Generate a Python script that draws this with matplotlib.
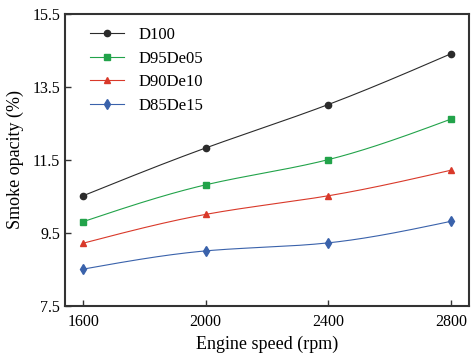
import numpy as np
import matplotlib
matplotlib.use('Agg')
import matplotlib.pyplot as plt

plt.rcParams['font.family'] = ['Liberation Serif', 'DejaVu Serif']
plt.rcParams['mathtext.fontset'] = 'stix'

speed = [1600, 2000, 2400, 2800]
d100 = [10.52, 11.83, 13.02, 14.41]
d95de05 = [9.81, 10.82, 11.51, 12.62]
d90de10 = [9.22, 10.01, 10.52, 11.22]
d85de15 = [8.51, 9.01, 9.23, 9.82]

names = ['D100', 'D95De05', 'D90De10', 'D85De15']
colors = ['#2b2b2b', '#22a34a', '#d9392a', '#3a62ab']
markers = ['o', 's', '^', 'd']


# natural cubic spline, only used to draw the smooth connecting line
def spline(x, y, n=200):
    x = np.asarray(x, float)
    y = np.asarray(y, float)
    k = len(x)
    h = np.diff(x)
    A = np.zeros((k, k))
    b = np.zeros(k)
    A[0, 0] = 1
    A[-1, -1] = 1
    for i in range(1, k - 1):
        A[i, i - 1] = h[i - 1]
        A[i, i] = 2 * (h[i - 1] + h[i])
        A[i, i + 1] = h[i]
        b[i] = 6 * ((y[i + 1] - y[i]) / h[i] - (y[i] - y[i - 1]) / h[i - 1])
    m = np.linalg.solve(A, b)
    xs = np.linspace(x[0], x[-1], n)
    ys = np.empty_like(xs)
    for j, xv in enumerate(xs):
        i = min(np.searchsorted(x, xv) - 1, k - 2)
        i = max(i, 0)
        t1 = x[i + 1] - xv
        t0 = xv - x[i]
        ys[j] = (m[i] * t1 ** 3 + m[i + 1] * t0 ** 3) / (6 * h[i]) \
            + (y[i] / h[i] - m[i] * h[i] / 6) * t1 \
            + (y[i + 1] / h[i] - m[i + 1] * h[i] / 6) * t0
    return xs, ys


fig = plt.figure(figsize=(4.77, 3.58), dpi=100)
ax = fig.add_axes([65 / 477, 52 / 358, 404 / 477, 292 / 358])

for vals, name, c, mk in zip([d100, d95de05, d90de10, d85de15], names, colors, markers):
    xs, ys = spline(speed, vals)
    ms = 5 if mk == 'd' else 4.5
    ax.plot(xs, ys, color=c, lw=0.8)
    ax.plot(speed, vals, mk, color=c, ms=ms, mec=c)
    ax.plot([], [], color=c, lw=0.8, marker=mk, ms=ms, label=name)

ax.set_xlim(1541, 2859)
ax.set_ylim(7.5, 15.5)
ax.set_xticks(speed)
ax.set_yticks([7.5, 9.5, 11.5, 13.5, 15.5])
ax.set_yticklabels(['7.5', '9.5', '11.5', '13.5', '15.5'])
ax.tick_params(direction='in', length=4, width=1, labelsize=11.5, color='#333333')
ax.tick_params(axis='x', pad=6)
for s in ax.spines.values():
    s.set_linewidth(1.5)
    s.set_color('#333333')

ax.set_xlabel('Engine speed (rpm)', fontsize=13, labelpad=4)
ax.set_ylabel('Smoke opacity (%)', fontsize=13, labelpad=6)

ax.legend(loc='upper left', bbox_to_anchor=(0.045, 0.978), frameon=False,
          fontsize=12, handlelength=2.05, labelspacing=0.45,
          borderaxespad=0, handletextpad=0.85)

fig.savefig('out.png', dpi=100)
